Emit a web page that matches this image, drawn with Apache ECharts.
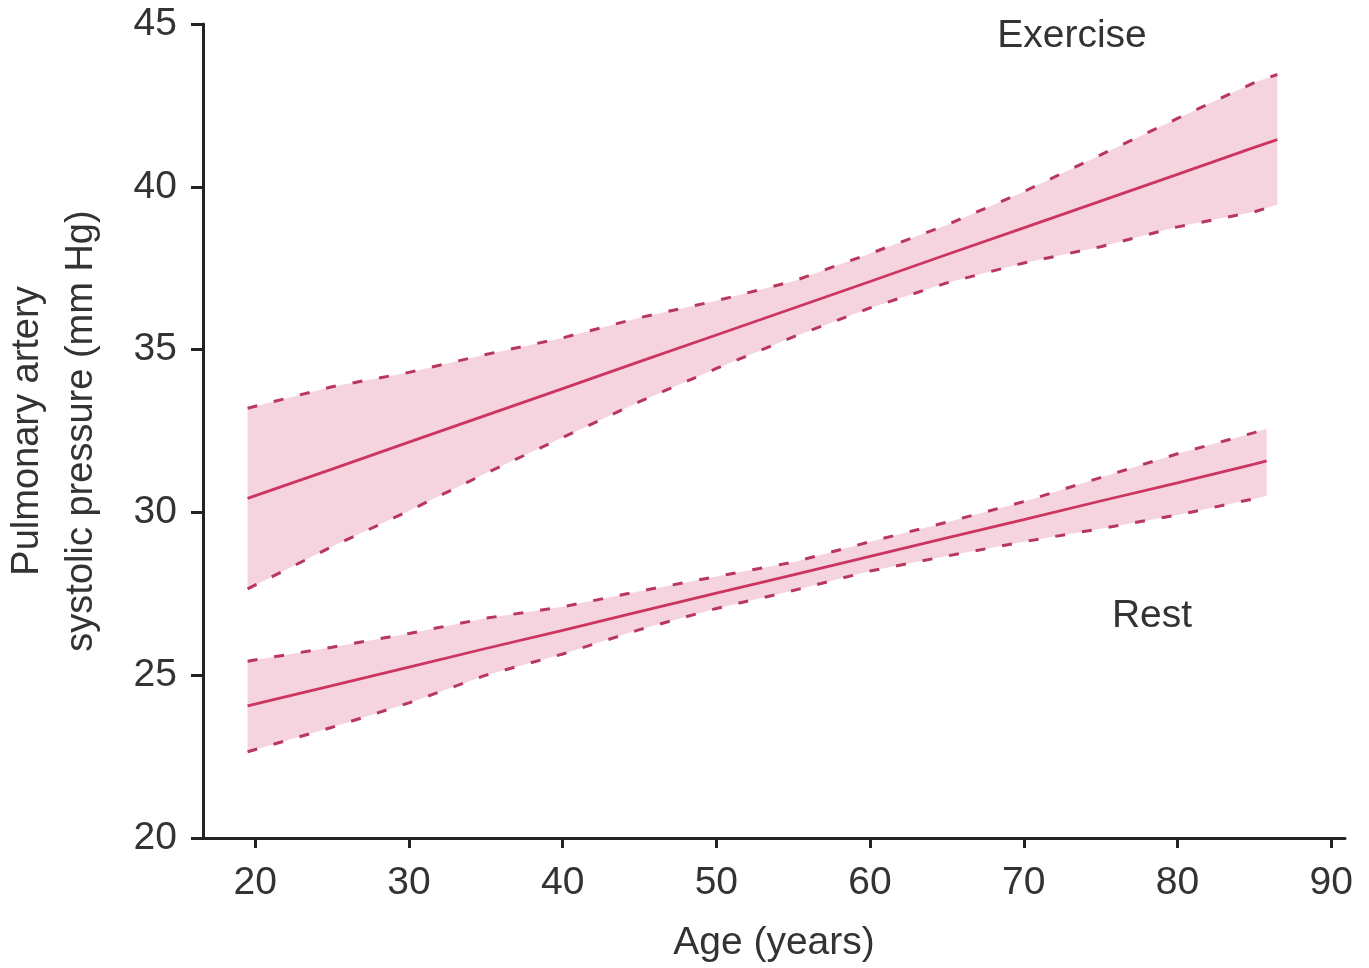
<!DOCTYPE html>
<html>
<head>
<meta charset="utf-8">
<script src="https://cdn.jsdelivr.net/npm/echarts@6/dist/echarts.min.js"></script>
<style>
html,body{margin:0;padding:0;background:#fff;}
#chart{width:1369px;height:968px;}
</style>
</head>
<body>
<div id="chart"></div>
<script>
// ---- data ----
const xTicks = [20, 30, 40, 50, 60, 70, 80, 90];

const exAges  = [19.5, 25, 30, 35, 40, 45, 50, 55, 60, 65, 70, 75, 80, 85, 86.5];
const exMean  = [30.43, 31.33, 32.16, 32.98, 33.80, 34.63, 35.45, 36.27, 37.09, 37.92, 38.74, 39.56, 40.38, 41.21, 41.45];
const exUpper = [33.20, 33.86, 34.30, 34.85, 35.36, 35.98, 36.50, 37.10, 37.95, 38.83, 39.85, 40.98, 42.10, 43.20, 43.45];
const exLower = [27.65, 28.95, 30.05, 31.20, 32.30, 33.40, 34.42, 35.39, 36.28, 37.05, 37.66, 38.16, 38.77, 39.23, 39.45];

const restAges  = [19.5, 25, 30, 35, 40, 45, 50, 55, 60, 65, 70, 75, 80, 85, 85.8];
const restMean  = [24.06, 24.68, 25.25, 25.82, 26.38, 26.95, 27.52, 28.08, 28.65, 29.22, 29.78, 30.35, 30.91, 31.48, 31.58];
const restUpper = [25.43, 25.86, 26.28, 26.75, 27.10, 27.58, 28.03, 28.47, 29.10, 29.70, 30.33, 31.07, 31.80, 32.45, 32.58];
const restLower = [22.65, 23.40, 24.15, 25.00, 25.65, 26.40, 27.05, 27.60, 28.20, 28.66, 29.10, 29.50, 29.92, 30.42, 30.50];

// ---- styles ----
const FONT = 'Liberation Sans, Arial, sans-serif';
const TXT = '#333333';
const AXIS = '#222222';
const FILL = '#f5d4df';
const MEAN = '#cc3560';
const DASH = '#b8375a';

const zip = (xs, ys) => xs.map((x, i) => [x, ys[i]]);

function bandSeries(ages, lower, upper, mean) {
  return [
    {
      type: 'custom', silent: true, z: 1, clip: false,
      data: [[ages[0], lower[0]]],
      renderItem: function (params, api) {
        const pts = [];
        for (let i = 0; i < ages.length; i++) pts.push(api.coord([ages[i], upper[i]]));
        for (let i = ages.length - 1; i >= 0; i--) pts.push(api.coord([ages[i], lower[i]]));
        return { type: 'polygon', shape: { points: pts }, style: { fill: FILL } };
      }
    },
    { type: 'line', data: zip(ages, upper), symbol: 'none',
      lineStyle: { color: DASH, width: 3, type: [10, 17] }, z: 3 },
    { type: 'line', data: zip(ages, lower), symbol: 'none',
      lineStyle: { color: DASH, width: 3, type: [10, 17] }, z: 3 },
    { type: 'line', data: zip(ages, mean), symbol: 'none',
      lineStyle: { color: MEAN, width: 2.8 }, z: 4 }
  ];
}

const chart = echarts.init(document.getElementById('chart'), null, { renderer: 'canvas' });
chart.setOption({
  animation: false,
  backgroundColor: '#ffffff',
  grid: { left: 203, right: 24, top: 24, bottom: 130, containLabel: false, outerBoundsMode: 'none' },
  xAxis: {
    type: 'value', min: 16.6, max: 90.9,
    name: 'Age (years)', nameLocation: 'middle', nameGap: 86,
    nameTextStyle: { fontFamily: FONT, fontSize: 39, color: TXT },
    axisLine: { show: true, lineStyle: { color: AXIS, width: 3 } },
    axisTick: { show: true, inside: false, length: 10, customValues: xTicks, lineStyle: { color: AXIS, width: 3 } },
    axisLabel: { customValues: xTicks, margin: 26, fontFamily: FONT, fontSize: 39, color: TXT },
    splitLine: { show: false }
  },
  yAxis: {
    type: 'value', min: 20, max: 45, interval: 5,
    name: 'Pulmonary artery\nsystolic pressure (mm Hg)', nameLocation: 'middle', nameGap: 94,
    nameTextStyle: { fontFamily: FONT, fontSize: 38, color: TXT, lineHeight: 54 },
    axisLine: { show: true, lineStyle: { color: AXIS, width: 3 } },
    axisTick: { show: true, inside: false, length: 12, lineStyle: { color: AXIS, width: 3 } },
    axisLabel: { margin: 26, fontFamily: FONT, fontSize: 39, color: TXT },
    splitLine: { show: false }
  },
  graphic: [
    { type: 'text', z: 100, x: 1072, y: 36, style: { text: 'Exercise', font: '39px ' + FONT, fill: TXT, align: 'center', verticalAlign: 'middle' } },
    { type: 'text', z: 100, x: 1152, y: 616, style: { text: 'Rest', font: '39px ' + FONT, fill: TXT, align: 'center', verticalAlign: 'middle' } }
  ],
  series: [].concat(
    bandSeries(exAges, exLower, exUpper, exMean),
    bandSeries(restAges, restLower, restUpper, restMean)
  )
});
</script>
</body>
</html>
